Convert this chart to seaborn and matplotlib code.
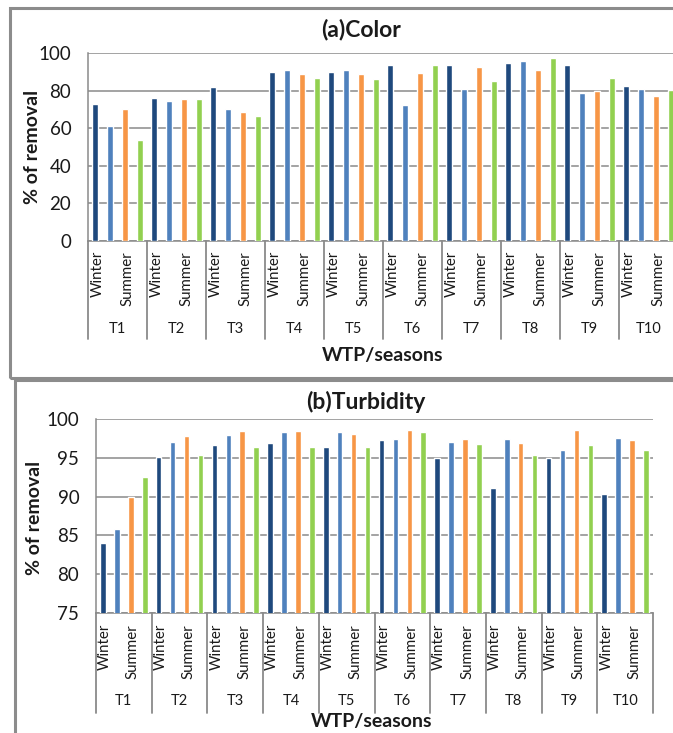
import numpy as np
import pandas as pd
import matplotlib
matplotlib.use("Agg")
import matplotlib.pyplot as plt
import seaborn as sns
from matplotlib.patches import Rectangle
from matplotlib.transforms import blended_transform_factory

# ---------------- data ----------------
wtp = ["T1", "T2", "T3", "T4", "T5", "T6", "T7", "T8", "T9", "T10"]
season_ticks = ["Winter", "", "Summer", ""]
series_keys = ["s1", "s2", "s3", "s4"]

color_s1 = [72.7, 76.3, 81.8, 90.0, 90.0, 93.4, 93.4, 94.8, 93.4, 82.3]
color_s2 = [61.1, 74.3, 70.2, 90.7, 90.7, 72.1, 81.1, 95.5, 78.9, 81.1]
color_s3 = [70.0, 75.5, 68.8, 88.6, 88.6, 89.3, 92.7, 90.7, 79.8, 77.0]
color_s4 = [53.6, 75.5, 66.6, 86.6, 86.4, 93.4, 85.2, 97.5, 86.6, 80.4]

turb_s1 = [84.0, 95.1, 96.6, 96.9, 96.4, 97.3, 95.0, 91.1, 95.0, 90.3]
turb_s2 = [85.8, 97.1, 97.9, 98.3, 98.3, 97.4, 97.1, 97.4, 96.0, 97.6]
turb_s3 = [89.9, 97.8, 98.4, 98.4, 98.1, 98.6, 97.4, 96.9, 98.6, 97.3]
turb_s4 = [92.5, 95.3, 96.4, 96.4, 96.4, 98.3, 96.8, 95.3, 96.6, 96.0]

palette = {"s1": "#1F497D", "s2": "#4F81BD", "s3": "#F79646", "s4": "#92D050"}

# ---------------- style ----------------
sns.set_style("white")
plt.rcParams["font.family"] = ["Lato", "DejaVu Sans"]
TXT = "#1a1a1a"
GRID = "#8a8a8a"

W, H = 673, 733
fig = plt.figure(figsize=(W / 100, H / 100), dpi=100)
fig.patch.set_facecolor("white")


def fx(x):
    return x / W


def fy(y):
    return 1 - y / H


def make_df(series):
    rows = []
    for g, name in enumerate(wtp):
        for k, key in enumerate(series_keys):
            rows.append({"pos": f"{name}_{k}", "val": series[k][g], "ser": key})
    return pd.DataFrame(rows)


def panel(series, box, ylim, yticks, title, title_xy, ylabel_xy,
          tick_top_y, group_y, sep_bottom, xlabel_xy):
    left, right, top, bottom = box
    ax = fig.add_axes([fx(left), fy(bottom), fx(right - left), (bottom - top) / H])
    df = make_df(series)
    order = list(df["pos"])
    sns.barplot(data=df, x="pos", y="val", hue="ser", order=order,
                hue_order=series_keys, palette=palette, dodge=False,
                width=0.4, saturation=1, legend=False, ax=ax, zorder=3)
    n = len(order)
    ax.set_xlim(-0.5, n - 0.5)
    ax.set_ylim(*ylim)
    ax.set_yticks(yticks)
    ax.set_yticklabels([str(v) for v in yticks], fontsize=13.5, color=TXT)
    ax.yaxis.grid(True, color=GRID, lw=1.1, zorder=0)
    ax.set_axisbelow(True)
    for s in ["top", "right"]:
        ax.spines[s].set_visible(False)
    for s in ["left", "bottom"]:
        ax.spines[s].set_color(GRID)
        ax.spines[s].set_linewidth(1.1)
    ax.tick_params(axis="y", length=5, width=1.1, color=GRID, pad=7)
    ax.set_xticks(range(n))
    ax.set_xticklabels([])
    ax.tick_params(axis="x", length=0)
    ax.set_xlabel("")
    ax.set_ylabel("")

    tr = blended_transform_factory(ax.transData, fig.transFigure)
    labels = season_ticks * len(wtp)
    for i, lab in enumerate(labels):
        if lab:
            ax.text(i + 0.15, fy(tick_top_y), lab, transform=tr, rotation=90,
                    ha="center", va="top", fontsize=10.8, color=TXT)
    for g, name in enumerate(wtp):
        ax.text(4 * g + 1.5, fy(group_y), name, transform=tr, ha="center",
                va="center", fontsize=10.5, color=TXT)
    for g in range(len(wtp) + 1):
        ax.plot([4 * g - 0.5, 4 * g - 0.5], [fy(bottom), fy(sep_bottom)],
                transform=tr, color=GRID, lw=1.3, clip_on=False)

    fig.text(fx(title_xy[0]), fy(title_xy[1]), title, ha="center", va="center",
             fontsize=16.5, fontweight="bold", color=TXT)
    fig.text(fx(ylabel_xy[0]), fy(ylabel_xy[1]), "% of removal", rotation=90,
             ha="center", va="center", fontsize=14, fontweight="bold", color=TXT)
    fig.text(fx(xlabel_xy[0]), fy(xlabel_xy[1]), "WTP/seasons", ha="center",
             va="center", fontsize=14, fontweight="bold", color=TXT)
    return ax


# frames
fig.patches.append(Rectangle((fx(10), fy(378)), fx(720 - 10), (378 - 8) / H,
                             transform=fig.transFigure, fill=False,
                             ec="#8c8c8c", lw=2.2))
fig.patches.append(Rectangle((fx(15), fy(780)), fx(720 - 15), (780 - 380) / H,
                             transform=fig.transFigure, fill=False,
                             ec="#8c8c8c", lw=2.2))

panel([color_s1, color_s2, color_s3, color_s4],
      box=(88, 678, 53, 241), ylim=(0, 100), yticks=[0, 20, 40, 60, 80, 100],
      title="(a)Color", title_xy=(361, 30), ylabel_xy=(33, 147),
      tick_top_y=251, group_y=329, sep_bottom=339, xlabel_xy=(383, 356))

panel([turb_s1, turb_s2, turb_s3, turb_s4],
      box=(96, 653, 419, 613), ylim=(75, 100), yticks=[75, 80, 85, 90, 95, 100],
      title="(b)Turbidity", title_xy=(366, 402), ylabel_xy=(35, 518),
      tick_top_y=624, group_y=701, sep_bottom=713, xlabel_xy=(372, 721))

fig.savefig("out.png", dpi=100, facecolor="white")
